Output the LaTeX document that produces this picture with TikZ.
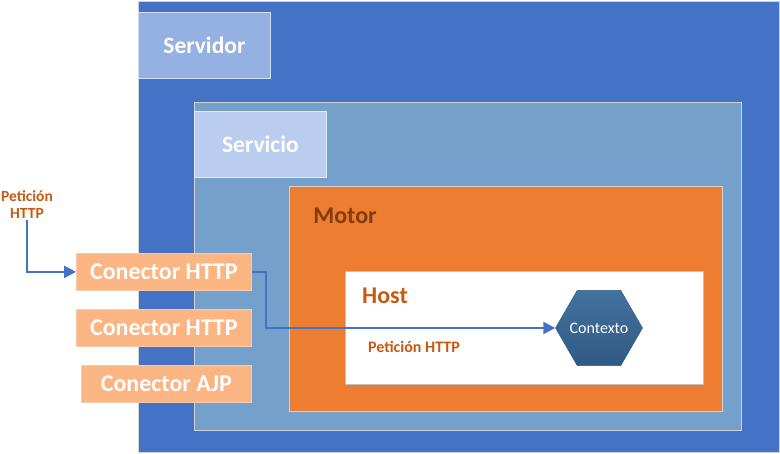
\documentclass[tikz,border=0pt]{standalone}
\usepackage{fontspec}
\setmainfont{Carlito}
\usetikzlibrary{shapes.geometric, arrows.meta}

\definecolor{servidorAzul}{HTML}{4472C4}
\definecolor{servidorEtiq}{HTML}{95B0E2}
\definecolor{servicioAzul}{HTML}{75A0CC}
\definecolor{servicioEtiq}{HTML}{BACDEE}
\definecolor{motorNaranja}{HTML}{ED7D31}
\definecolor{motorTexto}{HTML}{843C0C}
\definecolor{textoNaranja}{HTML}{C55A11}
\definecolor{conFondo}{HTML}{FBB583}
\definecolor{conBorde}{HTML}{F8CBAD}
\definecolor{ctxArriba}{HTML}{44729E}
\definecolor{ctxAbajo}{HTML}{2F5A84}

\begin{document}
\begin{tikzpicture}[x=1pt, y=-1pt,
    caja/.style={draw=gray!35, line width=0.8pt, anchor=north west, inner sep=0pt},
    etiqueta/.style={draw=white!60!#1, fill=#1, line width=0.8pt, anchor=north west, inner sep=0pt,
        text=white, font=\bfseries\fontsize{23.5}{26}\selectfont},
    conector/.style={draw=conBorde, fill=conFondo, line width=0.8pt, anchor=north west, inner sep=0pt,
        minimum height=37pt, text=white, font=\bfseries\fontsize{24}{26}\selectfont},
    nota/.style={text=textoNaranja, font=\bfseries\fontsize{16}{18}\selectfont},
    flecha/.style={draw=servidorAzul, line width=2.4pt, -{Triangle[length=12pt,width=12pt]}}]
    \useasboundingbox (0,0) rectangle (780,454);

    % Servidor
    \node[caja, fill=servidorAzul, minimum width=641pt, minimum height=451pt] (servidor) at (138,1) {};
    \node[etiqueta=servidorEtiq, minimum width=132pt, minimum height=66pt] (servidorlbl) at (138,12) {Servidor};

    % Servicio
    \node[caja, fill=servicioAzul, minimum width=547pt, minimum height=328pt] (servicio) at (194,102) {};
    \node[etiqueta=servicioEtiq, minimum width=132pt, minimum height=66pt] (serviciolbl) at (194,111) {Servicio};

    % Motor
    \node[caja, fill=motorNaranja, minimum width=433pt, minimum height=225pt] (motor) at (289,186) {};
    \node[text=motorTexto, font=\bfseries\fontsize{24}{26}\selectfont] (motorlbl) at (345,216) {Motor};

    % Host
    \node[caja, draw=gray!50, fill=white, minimum width=358pt, minimum height=113pt] (host) at (345,271) {};
    \node[text=textoNaranja, font=\bfseries\fontsize{24}{26}\selectfont] (hostlbl) at (385,296) {Host};
    \node[nota] (peticionhost) at (414,347) {Petición HTTP};

    % Contexto
    \node[regular polygon, regular polygon sides=6, minimum size=87pt, inner sep=0pt,
        draw=ctxAbajo, top color=ctxArriba, bottom color=ctxAbajo,
        label={[text=white, font=\fontsize{16}{18}\selectfont]center:Contexto}] (ctx) at (599,328) {};

    % Conectores
    \node[conector, minimum width=175pt] (con1) at (76,253) {Conector HTTP};
    \node[conector, minimum width=175pt] (con2) at (76,309) {Conector HTTP};
    \node[conector, minimum width=170pt] (con3) at (81,365) {Conector AJP};

    % Peticion de entrada
    \node[nota, font=\bfseries\fontsize{15.5}{17}\selectfont, align=center, inner sep=1pt] (peticion) at (27,205) {Petición\\HTTP};
    \draw[flecha] (peticion.south) |- (con1.west);
    \draw[flecha] (con1.east) -- ++(14,0) |- (ctx.west);
\end{tikzpicture}
\end{document}
